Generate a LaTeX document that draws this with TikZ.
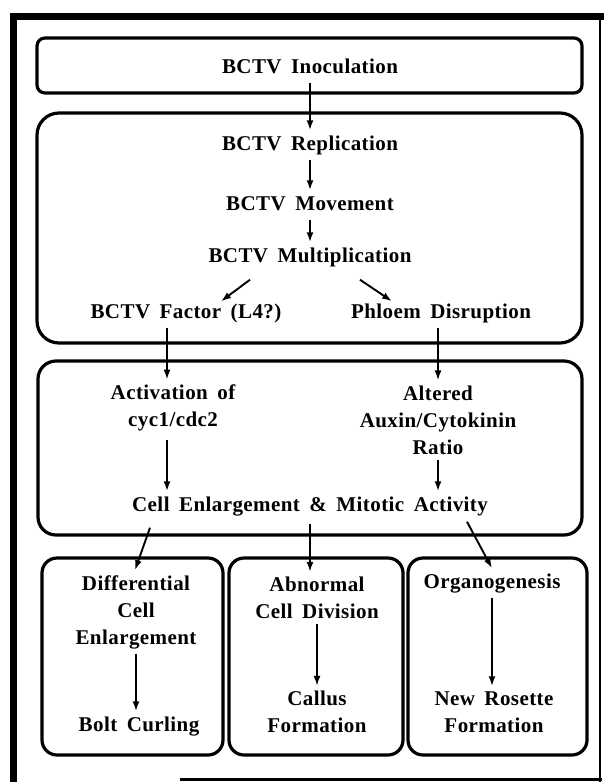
\documentclass[tikz,border=0pt]{standalone}
\usepackage{fontspec}
\setmainfont{Liberation Serif}[LetterSpace=2.0]
\usetikzlibrary{arrows.meta}

\begin{document}
\begin{tikzpicture}[x=1pt,y=-1pt,
    panel/.style={line width=3.2pt},
    arr/.style={line width=1.9pt,-{Latex[length=10pt,width=7pt]}},
    lbl/.style={font={\bfseries\fontsize{21}{27}\selectfont\spaceskip=9.5pt\relax},inner sep=5pt,text height=14.5pt,text depth=4.5pt},
    lbls/.style={font={\bfseries\fontsize{21}{27}\selectfont\spaceskip=9.5pt\relax},inner sep=5pt,align=center}]
                \useasboundingbox (0,0) rectangle (604,782);
                \draw[line width=7pt] (13,782) -- (13,16) -- (604,16);
                \draw[line width=2pt] (600,16) -- (600,782);
                \draw[line width=3pt] (180,779) -- (602,779);
                \draw[panel,rounded corners=8pt] (37,38) rectangle (582,93);
                \draw[panel,rounded corners=22pt] (37,113) rectangle (582,343);
                \draw[panel,rounded corners=18pt] (38,361) rectangle (582,535);
                \draw[panel,rounded corners=15pt] (42,558) rectangle (223,755);
                \draw[panel,rounded corners=15pt] (229,558) rectangle (403,755);
                \draw[panel,rounded corners=15pt] (408,558) rectangle (587,755);
                \node[lbl] (inoc) at (310,68) {BCTV Inoculation};
                \node[lbl] (repl) at (310,145) {BCTV Replication};
                \node[lbl] (move) at (310,205) {BCTV Movement};
                \node[lbl] (mult) at (310,257) {BCTV Multiplication};
                \node[lbl] (factor) at (186,313) {BCTV Factor (L4?)};
                \node[lbl] (phloem) at (441,313) {Phloem Disruption};
                \node[lbls] (act) at (173,408) {Activation of\\cyc1/cdc2};
                \node[lbls] (alt) at (438,420) {Altered\\Auxin/Cytokinin\\Ratio};
                \node[lbl] (cellenl) at (310,506) {Cell Enlargement \& Mitotic Activity};
                \node[lbls] (diff) at (136,612) {Differential\\Cell\\Enlargement};
                \node[lbl] (bolt) at (139,726) {Bolt Curling};
                \node[lbls] (abn) at (317,598) {Abnormal\\Cell Division};
                \node[lbls] (callus) at (317,712) {Callus\\Formation};
                \node[lbl] (organo) at (492,583) {Organogenesis};
                \node[lbls] (rosette) at (494,712) {New Rosette\\Formation};
                \draw[arr] (inoc) -- (repl);
                \draw[arr] (repl) -- (move);
                \draw[arr] (move) -- (mult);
                \draw[arr] ([shift={(-60,8)}]mult.south) -- ([shift={(35,3)}]factor.north);
                \draw[arr] ([shift={(50,8)}]mult.south) -- ([shift={(-49,3)}]phloem.north);
                \draw[arr] ([xshift=-6pt]act.north |- factor.south) -- ([xshift=-6pt]act.north);
                \draw[arr] (alt.north |- phloem.south) -- (alt.north);
                \draw[arr] ([shift={(-6,4)}]act.south) -- ([xshift=-6pt]act.south |- cellenl.north);
                \draw[arr] (alt.south) -- (alt.south |- cellenl.north);
                \draw[arr] ([shift={(-160,7)}]cellenl.south) -- ([xshift=-1pt]diff.north);
                \draw[arr] ([yshift=-3pt]cellenl.south) -- (cellenl.south |- abn.north);
                \draw[arr] ([shift={(157,1)}]cellenl.south) -- (organo.north);
                \draw[arr] (diff.south) -- (diff.south |- bolt.north);
                \draw[arr] (abn.south) -- (abn.south |- callus.north);
                \draw[arr] (organo.south) -- (organo.south |- rosette.north);
            \end{tikzpicture}
\end{document}
